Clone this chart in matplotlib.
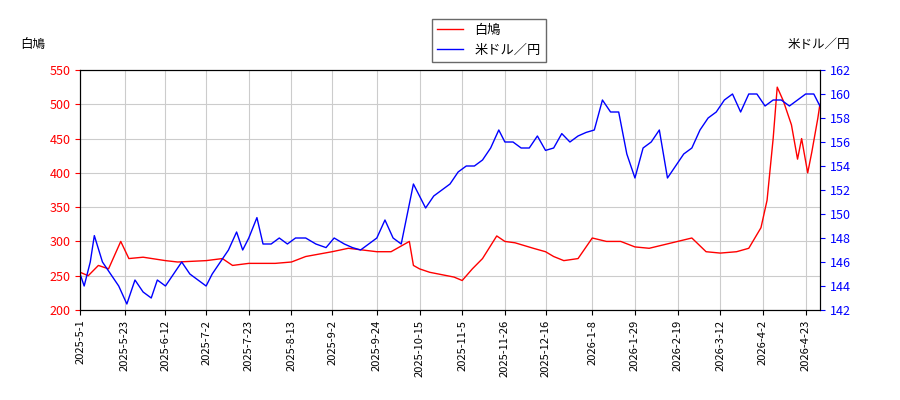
import matplotlib
matplotlib.use("Agg")
import matplotlib.pyplot as plt
import pandas as pd

plt.rcParams['font.family'] = ['Noto Sans CJK JP', 'DejaVu Sans']

tick_labels = ["2025-5-1","2025-5-23","2025-6-12","2025-7-2","2025-7-23","2025-8-13","2025-9-2","2025-9-24","2025-10-15","2025-11-5","2025-11-26","2025-12-16","2026-1-8","2026-1-29","2026-2-19","2026-3-12","2026-4-2","2026-4-23"]

red_dates = ["2025-05-01","2025-05-05","2025-05-10","2025-05-15","2025-05-21","2025-05-25","2025-06-01","2025-06-12","2025-06-18","2025-07-02","2025-07-10","2025-07-15","2025-07-23","2025-08-05","2025-08-13","2025-08-20","2025-09-02","2025-09-10","2025-09-24","2025-10-01","2025-10-10","2025-10-12","2025-10-15","2025-10-20","2025-11-01","2025-11-05","2025-11-10","2025-11-15","2025-11-22","2025-11-26","2025-12-01","2025-12-10","2025-12-16","2025-12-20","2025-12-25","2026-01-01","2026-01-08","2026-01-15","2026-01-22","2026-01-29","2026-02-05","2026-02-12","2026-02-19","2026-02-26","2026-03-05","2026-03-12","2026-03-20","2026-03-26","2026-04-01","2026-04-04","2026-04-07","2026-04-09","2026-04-12","2026-04-16","2026-04-19","2026-04-21","2026-04-24","2026-04-26","2026-04-29","2026-04-30"]
red_vals = [255,250,265,260,300,275,277,272,270,272,275,265,268,268,270,278,285,290,285,285,300,265,260,255,248,243,260,275,308,300,298,290,285,278,272,275,305,300,300,292,290,295,300,305,285,283,285,290,320,360,450,525,505,470,420,450,400,430,480,500]

blue_dates = ["2025-05-01","2025-05-03","2025-05-06","2025-05-08","2025-05-12","2025-05-16","2025-05-20","2025-05-24","2025-05-28","2025-06-01","2025-06-05","2025-06-08","2025-06-12","2025-06-16","2025-06-20","2025-06-24","2025-06-28","2025-07-02","2025-07-05","2025-07-09","2025-07-13","2025-07-17","2025-07-20","2025-07-23","2025-07-27","2025-07-30","2025-08-03","2025-08-07","2025-08-11","2025-08-15","2025-08-20","2025-08-25","2025-08-30","2025-09-03","2025-09-08","2025-09-12","2025-09-16","2025-09-20","2025-09-24","2025-09-28","2025-10-02","2025-10-06","2025-10-09","2025-10-12","2025-10-15","2025-10-18","2025-10-22","2025-10-26","2025-10-30","2025-11-03","2025-11-07","2025-11-11","2025-11-15","2025-11-19","2025-11-23","2025-11-26","2025-11-30","2025-12-04","2025-12-08","2025-12-12","2025-12-16","2025-12-20","2025-12-24","2025-12-28","2026-01-01","2026-01-05","2026-01-09","2026-01-13","2026-01-17","2026-01-21","2026-01-25","2026-01-29","2026-02-02","2026-02-06","2026-02-10","2026-02-14","2026-02-18","2026-02-22","2026-02-26","2026-03-02","2026-03-06","2026-03-10","2026-03-14","2026-03-18","2026-03-22","2026-03-26","2026-03-30","2026-04-03","2026-04-07","2026-04-11","2026-04-15","2026-04-19","2026-04-23","2026-04-27","2026-04-30"]
blue_vals = [145,144,146,148.2,146,145,144,142.5,144.5,143.5,143,144.5,144,145,146,145,144.5,144,145,146,147,148.5,147,148,149.7,147.5,147.5,148,147.5,148,148,147.5,147.2,148,147.5,147.2,147,147.5,148,149.5,148,147.5,150,152.5,151.5,150.5,151.5,152,152.5,153.5,154,154,154.5,155.5,157,156,156,155.5,155.5,156.5,155.3,155.5,156.7,156,156.5,156.8,157,159.5,158.5,158.5,155,153,155.5,156,157,153,154,155,155.5,157,158,158.5,159.5,160,158.5,160,160,159,159.5,159.5,159,159.5,160,160,159]

fig = plt.figure(figsize=(9, 4), dpi=100)
ax = fig.add_axes([0.089, 0.225, 0.822, 0.6])
ax2 = ax.twinx()
l1, = ax.plot(pd.to_datetime(red_dates), red_vals, color='red', lw=1, label='白鳩')
l2, = ax2.plot(pd.to_datetime(blue_dates), blue_vals, color='blue', lw=1, label='米ドル／円')
ax.set_ylim(200, 550)
ax2.set_ylim(142, 162)
ax2.set_yticks(range(142, 163, 2))
ticks = pd.to_datetime(tick_labels, format="%Y-%m-%d")
ax.set_xticks(ticks)
ax.set_xticklabels(tick_labels, rotation=90, fontsize=8)
ax.set_xlim(pd.Timestamp("2025-05-01"), pd.Timestamp("2026-04-30"))
ax.grid(True, color='#cccccc')
ax.tick_params(axis='y', colors='red', labelsize=9)
ax2.tick_params(axis='y', colors='blue', labelsize=9)
fig.text(0.022, 0.88, '白鳩', fontsize=9)
fig.text(0.945, 0.88, '米ドル／円', fontsize=9, ha='right')
fig.legend(handles=[l1, l2], loc='upper center', bbox_to_anchor=(0.543, 0.97), fontsize=9.5, fancybox=False, edgecolor='#444444')
fig.savefig("out.png")
